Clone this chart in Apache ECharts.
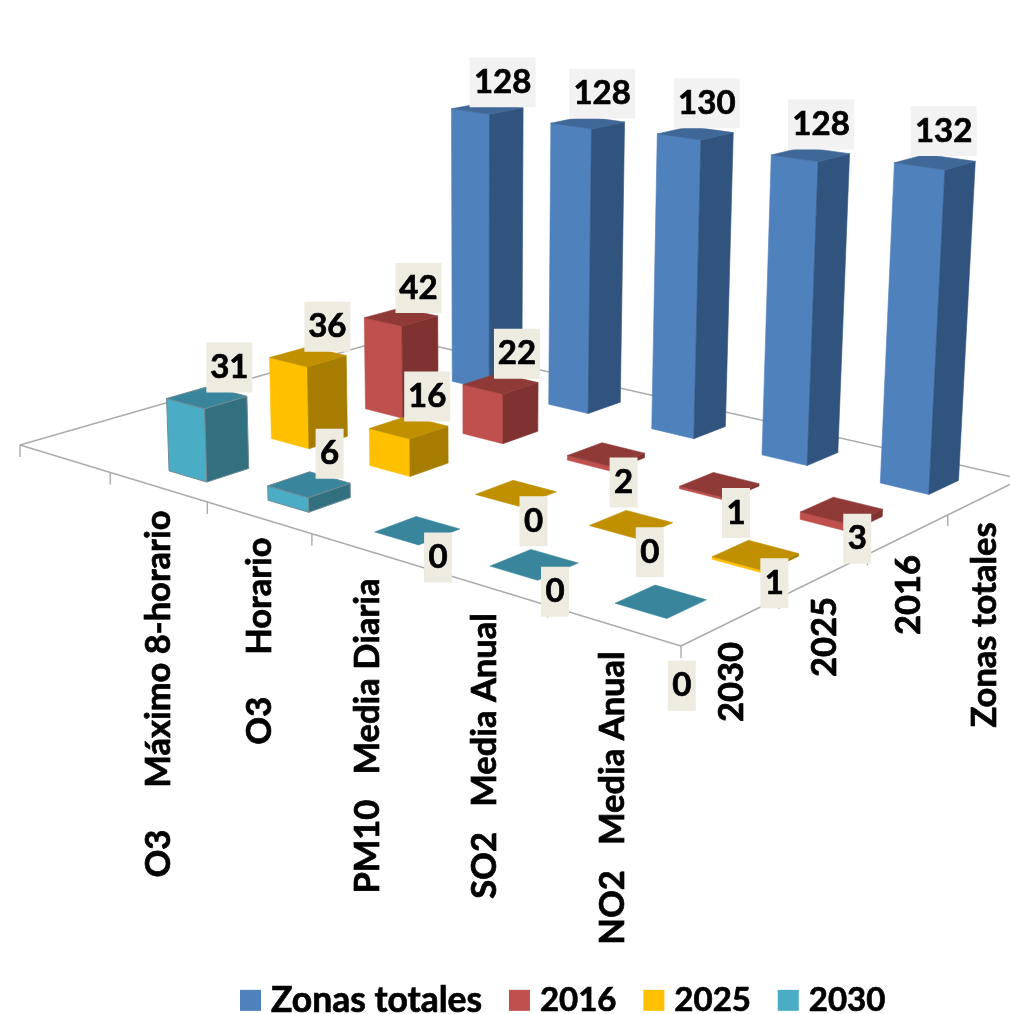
<!DOCTYPE html>
<html>
<head>
<meta charset="utf-8">
<script src="https://cdn.jsdelivr.net/npm/echarts@6/dist/echarts.min.js"></script>
<style>html,body{margin:0;padding:0;background:#fff}#c{width:1010px;height:1014px}</style>
</head>
<body>
<div id="c"></div>
<script>
// ---- data ----
var categories = ['', 'O3     Máximo 8-horario', 'O3     Horario', 'PM10   Media Diaria', 'SO2   Media Anual', 'NO2   Media Anual'];
var seriesNames = ['2030', '2025', '2016', 'Zonas totales'];
var zonasTotales = [128, 128, 130, 128, 132];
var values2016 = [42, 22, 2, 1, 3];
var values2025 = [36, 16, 0, 0, 1];
var values2030 = [31, 6, 0, 0, 0];

// ---- layout and style ----
var LABEL_FONT = 'bold 33px Lato';
var AXIS_FONT = 'bold 34.5px Lato';
var TEXT_WEIGHT = 0.7;
var floorCorners = [[20, 445], [681, 646], [1021, 479], [395, 337]]; // left, front, right, back
var verticalVanish = [480, 9580];
var verticalScale = -0.000246;
var barExtent = {uBefore: 0.21, uAfter: 0.18, vBefore: 0.21, vAfter: 0.19};
var faceColors = {
  'Zonas totales': {front: '#4F81BD', side: '#31547F', top: '#3F6797', edge: null},
  '2016': {front: '#C0504D', side: '#7F3230', top: '#903A38', edge: null},
  '2025': {front: '#FFC000', side: '#A67D00', top: '#C09000', edge: null},
  '2030': {front: '#4BACC6', side: '#33707F', top: '#38859C', edge: '#6E8C96'}
};
// label offset from the centre of the bar top, by series then category
var labelOffsets = {
  'Zonas totales': [[13, -26], [12, -29], [9, -30], [8, -30], [6, -31]],
  '2016': [[15, -29], [14, -30], [15, 28], [14, 28], [13, 28]],
  '2025': [[17, -30], [16, -31], [15, 28], [16, 28], [16, 28]],
  '2030': [[20, -30], [18, -31], [18, 27], [18, 27], [18, 84]]
};
var labelBoxColor = {'Zonas totales': '#F2F2F2', '2016': '#EEECE1', '2025': '#EEECE1', '2030': '#EEECE1'};
var labelBoxWidths = [28, 46, 66];
var labelBoxHeight = 50;
var categoryLabelCentres = [null, [159, 694], [260, 641], [368, 736], [485, 756], [613, 798]];
var seriesLabelCentres = [[732, 682], [825, 637], [909, 595], [985, 625]];

// ---- projection: floor homography plus a vertical vanishing point ----
var H = (function () {
  var c = floorCorners;
  var dx1 = c[1][0] - c[2][0], dx2 = c[3][0] - c[2][0], sx = c[0][0] - c[1][0] + c[2][0] - c[3][0];
  var dy1 = c[1][1] - c[2][1], dy2 = c[3][1] - c[2][1], sy = c[0][1] - c[1][1] + c[2][1] - c[3][1];
  var den = dx1 * dy2 - dx2 * dy1;
  var g = (sx * dy2 - dx2 * sy) / den, h = (dx1 * sy - sx * dy1) / den;
  return {
    a: c[1][0] - c[0][0] + g * c[1][0], b: c[3][0] - c[0][0] + h * c[3][0], c: c[0][0],
    d: c[1][1] - c[0][1] + g * c[1][1], e: c[3][1] - c[0][1] + h * c[3][1], f: c[0][1],
    g: g, h: h
  };
})();
var NU = categories.length, NV = seriesNames.length;
function project(u, v, z) {
  var p = u / NU, q = v / NV, k = z * verticalScale;
  var w = 1 + H.g * p + H.h * q + k;
  return [(H.a * p + H.b * q + H.c + k * verticalVanish[0]) / w,
          (H.d * p + H.e * q + H.f + k * verticalVanish[1]) / w];
}

// the hidden grid supplies the category and value scales
var GRID = {left: 0, top: 0, width: 600, height: 140};
var YMAX = 140;
function toModel(api, cat, val) {
  var pt = api.coord([cat, val]);
  return {u: (pt[0] - GRID.left) / GRID.width * NU, z: (GRID.top + GRID.height - pt[1]) / GRID.height * YMAX};
}

function poly(points, fill, edge) {
  return {type: 'polygon', shape: {points: points},
    style: {fill: fill, stroke: edge || fill, lineWidth: edge ? 1 : 0.6}};
}

function renderBar(params, api) {
  var name = seriesNames[api.value(1)];
  var col = faceColors[name];
  var m = toModel(api, api.value(0), api.value(2));
  var v = api.value(1) + 0.5, zv = m.z;
  var u0 = m.u - barExtent.uBefore, u1 = m.u + barExtent.uAfter;
  var v0 = v - barExtent.vBefore, v1 = v + barExtent.vAfter;
  var ch = [];
  if (zv > 0) {
    ch.push(poly([project(u0, v0, 0), project(u1, v0, 0), project(u1, v0, zv), project(u0, v0, zv)], col.front, col.edge));
    ch.push(poly([project(u1, v0, 0), project(u1, v1, 0), project(u1, v1, zv), project(u1, v0, zv)], col.side, col.edge));
  }
  ch.push(poly([project(u0, v0, zv), project(u1, v0, zv), project(u1, v1, zv), project(u0, v1, zv)], col.top, zv > 0 ? col.edge : null));
  return {type: 'group', children: ch};
}

function renderLabel(params, api) {
  var depth = api.value(1), cat = api.value(0), val = api.value(2);
  var name = seriesNames[depth];
  var m = toModel(api, cat, val);
  var c = project(m.u, depth + 0.5, m.z);
  var off = labelOffsets[name][cat - 1];
  var x = c[0] + off[0], y = c[1] + off[1];
  var txt = String(val);
  var w = labelBoxWidths[txt.length - 1];
  return {type: 'group', children: [
    {type: 'rect', shape: {x: x - w / 2, y: y - labelBoxHeight / 2, width: w, height: labelBoxHeight},
      style: {fill: labelBoxColor[name]}},
    {type: 'text', x: x, y: y, style: {text: txt, font: LABEL_FONT, fill: '#000', stroke: '#000', lineWidth: TEXT_WEIGHT,
      align: 'center', verticalAlign: 'middle'}}
  ]};
}

function line(a, b) {
  return {type: 'line', shape: {x1: a[0], y1: a[1], x2: b[0], y2: b[1]},
    style: {stroke: '#ABABAB', lineWidth: 1.4}};
}
function renderFloor(params, api) {
  if (params.dataIndex !== 0) return null;
  var ch = [line(project(0, 0, 0), project(NU, 0, 0)), line(project(NU, 0, 0), project(NU, NV, 0)),
            line(project(NU, NV, 0), project(0, NV, 0)), line(project(0, NV, 0), project(0, 0, 0))];
  var i, p;
  for (i = 0; i <= NU; i++) { p = project(i, 0, 0); ch.push(line(p, [p[0], p[1] + 12])); }
  for (i = 1; i < NV; i++) { p = project(NU, i, 0); ch.push(line(p, [p[0], p[1] + 11])); }
  return {type: 'group', children: ch};
}
function axisText(text, c) {
  return {type: 'text', x: c[0], y: c[1], rotation: Math.PI / 2,
    style: {text: text, font: AXIS_FONT, fill: '#000', stroke: '#000', lineWidth: TEXT_WEIGHT, align: 'center', verticalAlign: 'middle'}};
}
function renderAxisLabels(params, api) {
  if (params.dataIndex !== 0) return null;
  var ch = [], i;
  for (i = 1; i < categories.length; i++) ch.push(axisText(categories[i], categoryLabelCentres[i]));
  for (i = 0; i < seriesNames.length; i++) ch.push(axisText(seriesNames[i], seriesLabelCentres[i]));
  return {type: 'group', children: ch};
}

var seriesValues = {'Zonas totales': zonasTotales, '2016': values2016, '2025': values2025, '2030': values2030};
var legendOrder = ['Zonas totales', '2016', '2025', '2030'];
var legendFontSizes = [35.5, 33, 33, 33];
function rows(name) {
  return seriesValues[name].map(function (val, i) { return [i + 1, seriesNames.indexOf(name), val]; });
}
var allRows = [];
legendOrder.forEach(function (n) { allRows = allRows.concat(rows(n)); });

var series = [
  {type: 'custom', name: '_floor', coordinateSystem: 'cartesian2d', renderItem: renderFloor, data: [[1, 0, 0]],
    encode: {x: 0, y: 2}, silent: true, z: 1, clip: false}
];
legendOrder.forEach(function (n, i) {
  series.push({type: 'custom', name: n, coordinateSystem: 'cartesian2d', renderItem: renderBar, data: rows(n),
    encode: {x: 0, y: 2}, itemStyle: {color: faceColors[n].front}, silent: true, z: 2 + i, clip: false});
});
series.push({type: 'custom', name: '_labels', coordinateSystem: 'cartesian2d', renderItem: renderLabel, data: allRows,
  encode: {x: 0, y: 2}, silent: true, z: 10, clip: false});
series.push({type: 'custom', name: '_axisLabels', coordinateSystem: 'cartesian2d', renderItem: renderAxisLabels, data: [[1, 0, 0]],
  encode: {x: 0, y: 2}, silent: true, z: 9, clip: false});

var legendText = {fontFamily: 'Lato', fontWeight: 'bold', color: '#000', padding: [0, 0, 0, 5],
  textBorderColor: '#000', textBorderWidth: 0.7};
var chart = echarts.init(document.getElementById('c'), null, {renderer: 'canvas'});
chart.setOption({
  animation: false,
  backgroundColor: '#fff',
  grid: {left: GRID.left, top: GRID.top, width: GRID.width, height: GRID.height, show: false},
  xAxis: {type: 'category', data: categories, show: false, boundaryGap: true},
  yAxis: {type: 'value', min: 0, max: YMAX, show: false},
  tooltip: {show: false},
  legend: {
    data: legendOrder.map(function (n, i) {
      return {name: n, textStyle: Object.assign({}, legendText, {fontSize: legendFontSizes[i]})};
    }),
    left: 240, top: 982, padding: 0, itemWidth: 21, itemHeight: 21, itemGap: 26.5, icon: 'rect',
    selectedMode: false,
    textStyle: legendText
  },
  series: series
});
</script>
</body>
</html>
